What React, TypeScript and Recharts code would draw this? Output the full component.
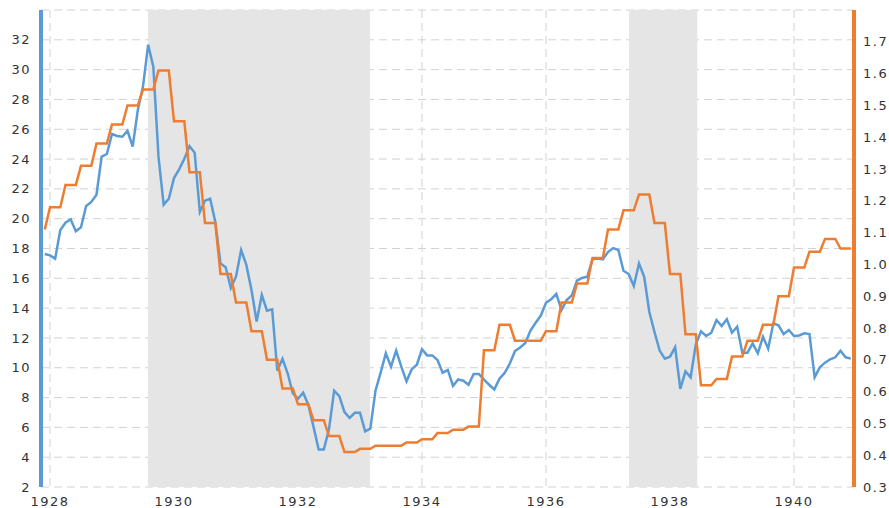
import {
  LineChart,
  Line,
  XAxis,
  YAxis,
  CartesianGrid,
  ReferenceArea,
} from 'recharts';

// monthly values, Dec 1927 .. Dec 1940
const START_YEAR = 1927;
const START_MONTH = 11; // 0-based, December

const priceIndex = [
  17.63, 17.54, 17.32, 19.24, 19.73, 19.96, 19.15, 19.42, 20.85, 21.12, 21.61, 24.16, 24.34,
  25.68, 25.55, 25.5, 25.9, 24.83, 27.29, 28.86, 31.67, 30.2, 24.16, 20.94, 21.34,
  22.73, 23.31, 24.02, 24.87, 24.43, 20.45, 21.21, 21.34, 19.78, 17.0, 16.74, 15.35,
  16.11, 17.9, 16.9, 15.22, 13.1, 14.88, 13.83, 13.92, 9.8, 10.6, 9.63, 8.28,
  7.92, 8.33, 7.52, 6.05, 4.52, 4.52, 5.87, 8.46, 8.1, 7.03, 6.63, 6.98,
  6.98, 5.73, 5.91, 8.46, 9.67, 10.97, 10.07, 11.15, 10.07, 9.09, 9.89, 10.2,
  11.24, 10.83, 10.83, 10.52, 9.67, 9.85, 8.78, 9.22, 9.13, 8.86, 9.58, 9.58,
  9.2, 8.86, 8.55, 9.27, 9.65, 10.28, 11.12, 11.36, 11.66, 12.49, 13.02, 13.5,
  14.36, 14.6, 14.95, 13.87, 14.54, 14.86, 15.84, 16.02, 16.11, 17.27, 17.32, 17.27,
  17.76, 18.03, 17.9, 16.51, 16.29, 15.48, 17.0, 16.11, 13.74, 12.4, 11.15, 10.61,
  10.74, 11.37, 8.58, 9.76, 9.36, 11.57, 12.44, 12.13, 12.35, 13.2, 12.8, 13.25,
  12.35, 12.75, 11.01, 11.01, 11.64, 10.97, 12.08, 11.28, 12.98, 12.85, 12.26, 12.53,
  12.13, 12.17, 12.31, 12.26, 9.36, 10.03, 10.34, 10.57, 10.7, 11.14, 10.7, 10.61,
];

const dividends = [
  1.11, 1.18, 1.18, 1.18, 1.25, 1.25, 1.25, 1.31, 1.31, 1.31, 1.38, 1.38, 1.38,
  1.44, 1.44, 1.44, 1.5, 1.5, 1.5, 1.55, 1.55, 1.55, 1.61, 1.61, 1.61,
  1.45, 1.45, 1.45, 1.29, 1.29, 1.29, 1.13, 1.13, 1.13, 0.97, 0.97, 0.97,
  0.88, 0.88, 0.88, 0.79, 0.79, 0.79, 0.7, 0.7, 0.7, 0.61, 0.61, 0.61,
  0.56, 0.56, 0.56, 0.51, 0.51, 0.51, 0.46, 0.46, 0.46, 0.41, 0.41, 0.41,
  0.42, 0.42, 0.42, 0.43, 0.43, 0.43, 0.43, 0.43, 0.43, 0.44, 0.44, 0.44,
  0.45, 0.45, 0.45, 0.47, 0.47, 0.47, 0.48, 0.48, 0.48, 0.49, 0.49, 0.49,
  0.73, 0.73, 0.73, 0.81, 0.81, 0.81, 0.76, 0.76, 0.76, 0.76, 0.76, 0.76,
  0.79, 0.79, 0.79, 0.88, 0.88, 0.88, 0.94, 0.94, 0.94, 1.02, 1.02, 1.02,
  1.11, 1.11, 1.11, 1.17, 1.17, 1.17, 1.22, 1.22, 1.22, 1.13, 1.13, 1.13,
  0.97, 0.97, 0.97, 0.78, 0.78, 0.78, 0.62, 0.62, 0.62, 0.64, 0.64, 0.64,
  0.71, 0.71, 0.71, 0.76, 0.76, 0.76, 0.81, 0.81, 0.81, 0.9, 0.9, 0.9,
  0.99, 0.99, 0.99, 1.04, 1.04, 1.04, 1.08, 1.08, 1.08, 1.05, 1.05, 1.05,
];

// recessions as [start, end] in decimal years
const recessions = [
  [1929.58, 1933.16],
  [1937.34, 1938.44],
];

const yearTicks = [1928, 1930, 1932, 1934, 1936, 1938, 1940];
const leftTicks = [2, 4, 6, 8, 10, 12, 14, 16, 18, 20, 22, 24, 26, 28, 30, 32, 34];
const rightTicks = [0.3, 0.4, 0.5, 0.6, 0.7, 0.8, 0.9, 1.0, 1.1, 1.2, 1.3, 1.4, 1.5, 1.6, 1.7];

const BLUE = '#5b9bd5';
const ORANGE = '#ed7d31';

const data = priceIndex.map((p, i) => ({
  t: START_YEAR + (START_MONTH + i) / 12,
  price: p,
  dividend: dividends[i],
}));

const tickStyle = {
  fill: '#333',
  fontSize: 13,
  fontFamily: '"DejaVu Sans", Verdana, sans-serif',
  letterSpacing: '1.5px',
};

export default function App() {
  return (
    <div style={{ position: 'absolute', left: 0, top: 0, background: '#fff' }}>
      <LineChart
        width={889}
        height={508}
        data={data}
        margin={{ top: 10, right: 0, bottom: 0, left: 0 }}
      >
        {recessions.map(([a, b], i) => (
          <ReferenceArea
            key={`rec-${i}`}
            yAxisId="left"
            x1={a}
            x2={b}
            fill="#e5e5e5"
            fillOpacity={1}
            stroke="none"
          />
        ))}
        <CartesianGrid
          yAxisId="left"
          stroke="#d2d2d2"
          strokeDasharray="8 5"
        />
        <XAxis
          dataKey="t"
          type="number"
          domain={[1927.855, 1940.968]}
          ticks={yearTicks}
          interval={0}
          height={21}
          axisLine={false}
          tickLine={false}
          tickMargin={4}
          tick={tickStyle}
        />
        <YAxis
          yAxisId="left"
          orientation="left"
          width={41}
          domain={[2, 34]}
          ticks={leftTicks}
          interval={0}
          tickFormatter={(v: number) => (v === 34 ? '' : String(v))}
          axisLine={{ stroke: BLUE, strokeWidth: 4 }}
          tickLine={false}
          tickMargin={4}
          tick={tickStyle}
        />
        <YAxis
          yAxisId="right"
          orientation="right"
          width={35}
          domain={[0.3, 1.8]}
          ticks={rightTicks}
          interval={0}
          tickFormatter={(v: number) => v.toFixed(1)}
          axisLine={{ stroke: ORANGE, strokeWidth: 4 }}
          tickLine={false}
          tickMargin={3}
          tick={{ ...tickStyle, textAnchor: 'start' }}
        />
        <Line
          yAxisId="left"
          type="linear"
          dataKey="price"
          stroke={BLUE}
          strokeWidth={2.5}
          dot={false}
          isAnimationActive={false}
        />
        <Line
          yAxisId="right"
          type="linear"
          dataKey="dividend"
          stroke={ORANGE}
          strokeWidth={2.5}
          dot={false}
          isAnimationActive={false}
        />
      </LineChart>
    </div>
  );
}
